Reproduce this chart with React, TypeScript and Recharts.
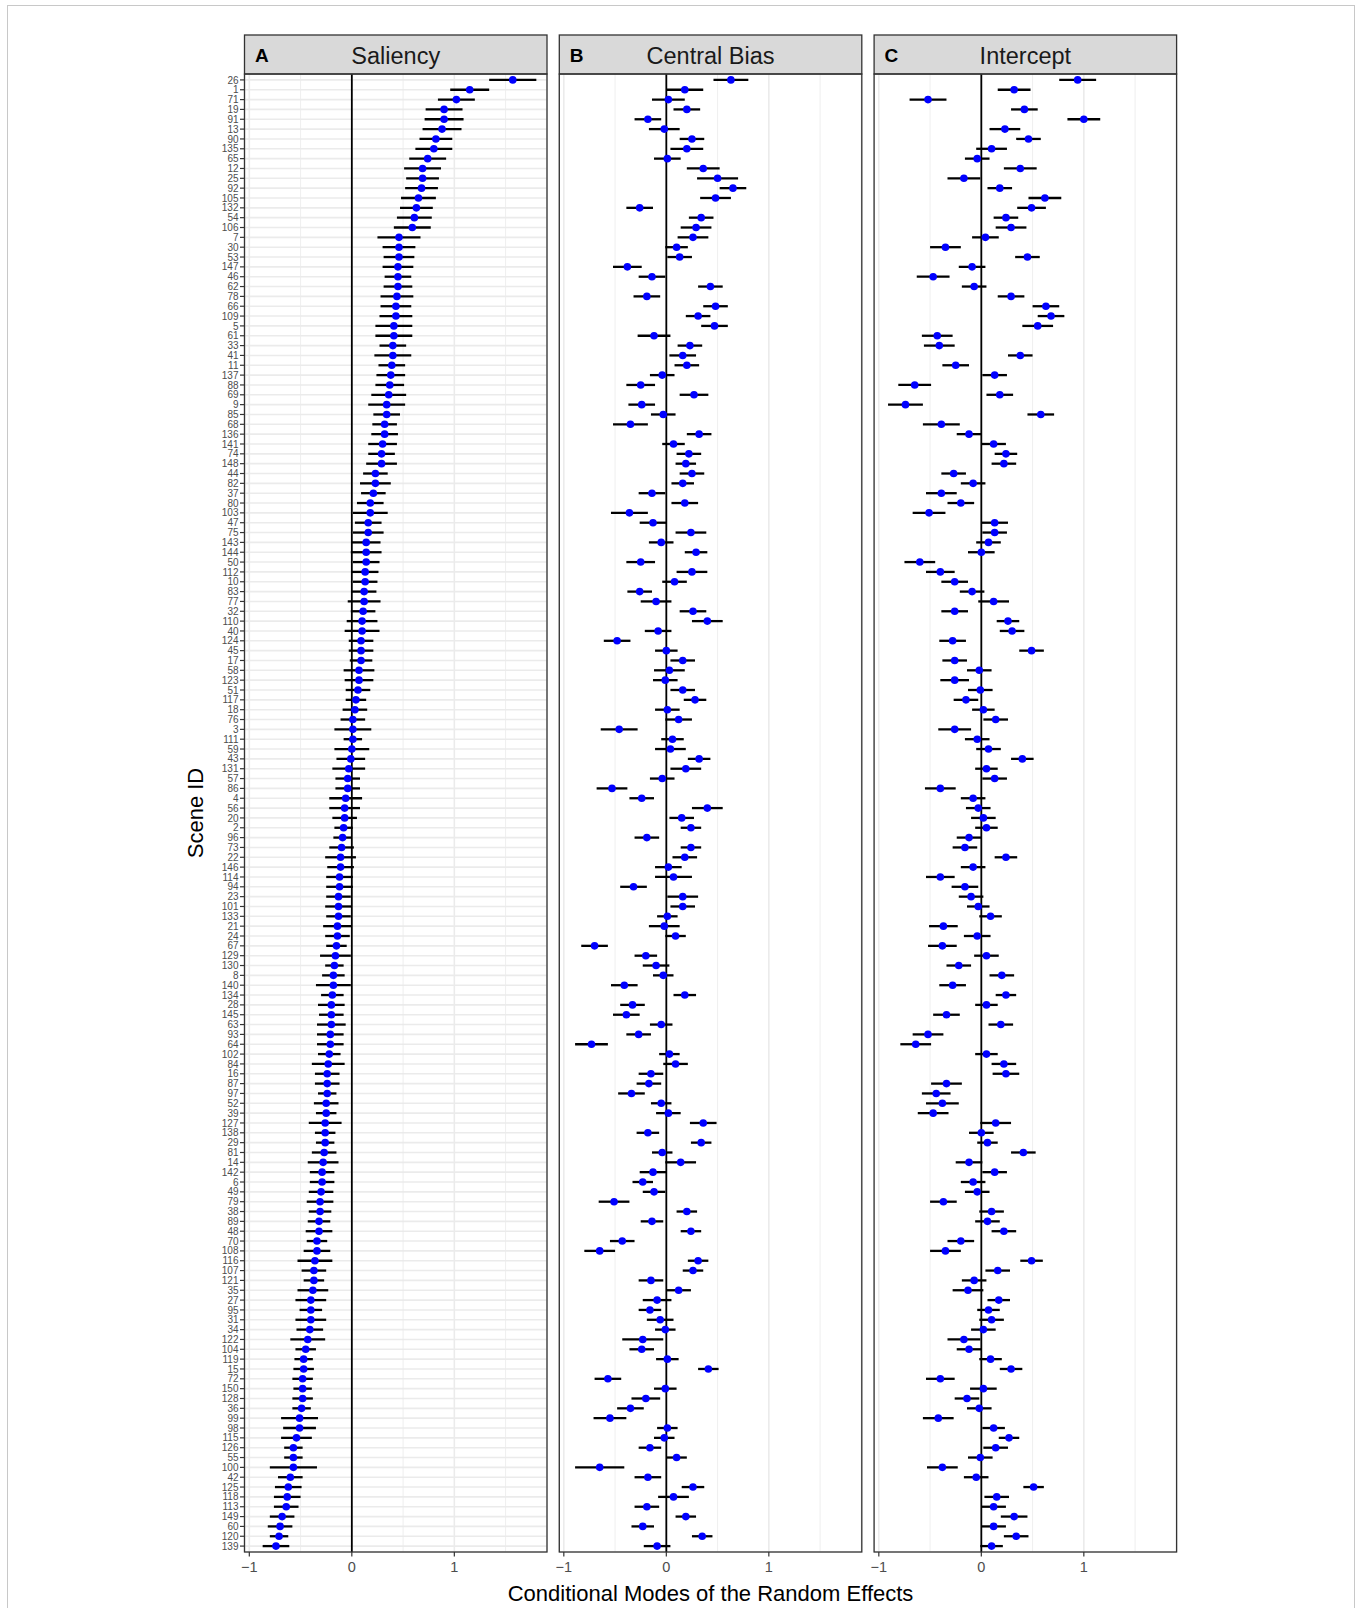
import React from 'react';
import { ScatterChart, Scatter, XAxis, YAxis, CartesianGrid, ErrorBar, ReferenceLine } from 'recharts';

const sceneIds = ["26","1","71","19","91","13","90","135","65","12",
"25","92","105","132","54","106","7","30","53","147",
"46","62","78","66","109","5","61","33","41","11",
"137","88","69","9","85","68","136","141","74","148",
"44","82","37","80","103","47","75","143","144","50",
"112","10","83","77","32","110","40","124","45","17",
"58","123","51","117","18","76","3","111","59","43",
"131","57","86","4","56","20","2","96","73","22",
"146","114","94","23","101","133","21","24","67","129",
"130","8","140","134","28","145","63","93","64","102",
"84","16","87","97","52","39","127","138","29","81",
"14","142","6","49","79","38","89","48","70","108",
"116","107","121","35","27","95","31","34","122","104",
"119","15","72","150","128","36","99","98","115","126",
"55","100","42","125","118","113","149","60","120","139"];

const saliencyEst = [1.57,1.15,1.02,0.90,0.90,0.88,0.82,0.80,0.74,0.69,
0.69,0.68,0.65,0.63,0.61,0.59,0.46,0.46,0.46,0.45,
0.45,0.45,0.44,0.43,0.43,0.41,0.41,0.40,0.40,0.39,
0.38,0.37,0.36,0.34,0.34,0.32,0.32,0.30,0.29,0.29,
0.23,0.23,0.21,0.18,0.18,0.16,0.16,0.14,0.14,0.14,
0.13,0.13,0.12,0.12,0.11,0.10,0.10,0.09,0.09,0.09,
0.07,0.07,0.06,0.04,0.03,0.01,0.01,0.01,0.00,-0.01,
-0.03,-0.04,-0.04,-0.06,-0.07,-0.07,-0.08,-0.09,-0.10,-0.11,
-0.11,-0.12,-0.12,-0.13,-0.13,-0.13,-0.14,-0.14,-0.15,-0.16,
-0.17,-0.18,-0.18,-0.19,-0.20,-0.20,-0.20,-0.21,-0.21,-0.22,
-0.23,-0.24,-0.24,-0.24,-0.25,-0.25,-0.26,-0.26,-0.26,-0.27,
-0.28,-0.29,-0.29,-0.30,-0.31,-0.31,-0.32,-0.32,-0.34,-0.34,
-0.36,-0.37,-0.37,-0.38,-0.40,-0.40,-0.40,-0.41,-0.43,-0.45,
-0.47,-0.47,-0.48,-0.48,-0.48,-0.49,-0.51,-0.51,-0.54,-0.57,
-0.57,-0.57,-0.60,-0.62,-0.63,-0.64,-0.68,-0.70,-0.71,-0.74];

const saliencyErr = [0.23,0.19,0.18,0.18,0.19,0.19,0.16,0.18,0.18,0.18,
0.16,0.16,0.17,0.16,0.17,0.18,0.21,0.16,0.15,0.15,
0.13,0.14,0.16,0.15,0.16,0.18,0.18,0.13,0.18,0.13,
0.14,0.14,0.17,0.18,0.13,0.12,0.13,0.14,0.13,0.15,
0.12,0.15,0.12,0.13,0.17,0.13,0.15,0.14,0.15,0.13,
0.13,0.12,0.12,0.16,0.12,0.15,0.17,0.12,0.12,0.11,
0.15,0.14,0.12,0.10,0.12,0.12,0.18,0.09,0.17,0.14,
0.16,0.12,0.12,0.16,0.15,0.12,0.09,0.09,0.12,0.15,
0.13,0.13,0.13,0.12,0.13,0.12,0.14,0.12,0.10,0.15,
0.09,0.11,0.17,0.11,0.13,0.12,0.14,0.13,0.13,0.11,
0.16,0.12,0.12,0.09,0.12,0.10,0.16,0.10,0.09,0.12,
0.15,0.12,0.12,0.12,0.13,0.11,0.11,0.13,0.10,0.13,
0.17,0.12,0.10,0.15,0.15,0.11,0.15,0.13,0.17,0.10,
0.09,0.10,0.10,0.09,0.10,0.09,0.18,0.16,0.15,0.09,
0.09,0.23,0.12,0.13,0.13,0.12,0.12,0.12,0.09,0.13];

const centralEst = [0.63,0.18,0.02,0.20,-0.18,-0.02,0.25,0.20,0.01,0.36,
0.50,0.65,0.48,-0.26,0.34,0.29,0.26,0.10,0.13,-0.38,
-0.14,0.43,-0.19,0.48,0.31,0.47,-0.12,0.23,0.16,0.20,
-0.04,-0.25,0.27,-0.24,-0.03,-0.35,0.32,0.07,0.22,0.19,
0.25,0.16,-0.14,0.18,-0.36,-0.13,0.24,-0.05,0.29,-0.25,
0.25,0.08,-0.26,-0.10,0.26,0.40,-0.08,-0.48,0.00,0.16,
0.03,-0.01,0.16,0.28,0.01,0.12,-0.46,0.06,0.04,0.32,
0.19,-0.04,-0.53,-0.24,0.40,0.15,0.24,-0.19,0.24,0.18,
0.02,0.07,-0.32,0.16,0.16,0.01,-0.02,0.09,-0.70,-0.20,
-0.10,-0.03,-0.41,0.18,-0.33,-0.39,-0.05,-0.27,-0.73,0.03,
0.09,-0.15,-0.17,-0.34,-0.05,0.02,0.36,-0.18,0.34,-0.04,
0.14,-0.13,-0.23,-0.12,-0.51,0.20,-0.14,0.24,-0.43,-0.65,
0.31,0.26,-0.15,0.12,-0.09,-0.16,-0.06,-0.01,-0.23,-0.24,
0.01,0.41,-0.57,-0.01,-0.20,-0.35,-0.55,0.01,-0.02,-0.16,
0.10,-0.65,-0.18,0.26,0.07,-0.19,0.19,-0.23,0.35,-0.09];

const centralErr = [0.17,0.18,0.16,0.13,0.13,0.15,0.12,0.16,0.13,0.16,
0.20,0.13,0.15,0.13,0.12,0.15,0.15,0.11,0.12,0.14,
0.13,0.12,0.13,0.12,0.12,0.13,0.16,0.12,0.13,0.12,
0.12,0.14,0.14,0.13,0.12,0.17,0.12,0.11,0.12,0.10,
0.12,0.11,0.13,0.13,0.18,0.13,0.15,0.12,0.11,0.14,
0.15,0.12,0.12,0.15,0.13,0.15,0.13,0.13,0.11,0.12,
0.15,0.12,0.12,0.11,0.12,0.13,0.18,0.11,0.15,0.11,
0.15,0.12,0.15,0.12,0.15,0.12,0.10,0.12,0.10,0.12,
0.13,0.18,0.13,0.15,0.12,0.10,0.15,0.10,0.13,0.11,
0.13,0.10,0.13,0.11,0.12,0.13,0.11,0.12,0.16,0.10,
0.12,0.12,0.12,0.13,0.10,0.12,0.13,0.11,0.10,0.10,
0.15,0.13,0.10,0.11,0.15,0.10,0.11,0.10,0.12,0.15,
0.10,0.10,0.12,0.12,0.14,0.11,0.13,0.10,0.20,0.12,
0.11,0.10,0.13,0.11,0.14,0.13,0.16,0.10,0.10,0.11,
0.10,0.24,0.13,0.11,0.15,0.12,0.10,0.11,0.10,0.13];

const interceptEst = [0.94,0.32,-0.52,0.42,1.00,0.23,0.46,0.10,-0.04,0.38,
-0.17,0.18,0.62,0.49,0.24,0.29,0.04,-0.35,0.45,-0.09,
-0.47,-0.07,0.29,0.63,0.68,0.55,-0.43,-0.41,0.38,-0.25,
0.13,-0.65,0.18,-0.74,0.58,-0.39,-0.12,0.12,0.24,0.22,
-0.27,-0.08,-0.39,-0.20,-0.51,0.13,0.13,0.07,0.00,-0.60,
-0.40,-0.26,-0.09,0.12,-0.26,0.26,0.30,-0.28,0.49,-0.26,
-0.02,-0.26,-0.01,-0.15,0.02,0.14,-0.26,-0.04,0.07,0.40,
0.05,0.13,-0.40,-0.08,-0.03,0.02,0.05,-0.12,-0.16,0.24,
-0.08,-0.40,-0.16,-0.10,-0.03,0.09,-0.37,-0.04,-0.38,0.05,
-0.22,0.20,-0.28,0.24,0.05,-0.34,0.19,-0.52,-0.64,0.05,
0.22,0.24,-0.34,-0.44,-0.38,-0.47,0.14,0.00,0.06,0.41,
-0.12,0.13,-0.08,-0.04,-0.37,0.10,0.06,0.22,-0.20,-0.35,
0.49,0.16,-0.07,-0.13,0.17,0.07,0.10,0.02,-0.17,-0.12,
0.09,0.29,-0.40,0.02,-0.14,-0.02,-0.42,0.12,0.27,0.14,
-0.01,-0.38,-0.05,0.51,0.15,0.12,0.32,0.12,0.34,0.10];

const interceptErr = [0.18,0.16,0.18,0.13,0.16,0.15,0.12,0.15,0.12,0.16,
0.16,0.12,0.16,0.14,0.12,0.15,0.13,0.15,0.12,0.13,
0.16,0.12,0.13,0.13,0.13,0.15,0.15,0.15,0.12,0.13,
0.12,0.16,0.13,0.17,0.13,0.18,0.12,0.12,0.11,0.12,
0.12,0.12,0.15,0.13,0.16,0.13,0.12,0.12,0.13,0.15,
0.14,0.13,0.12,0.15,0.13,0.11,0.12,0.13,0.12,0.12,
0.12,0.14,0.12,0.12,0.11,0.12,0.16,0.12,0.12,0.11,
0.11,0.12,0.15,0.12,0.12,0.12,0.11,0.12,0.12,0.11,
0.12,0.14,0.13,0.12,0.11,0.11,0.14,0.13,0.14,0.12,
0.12,0.12,0.13,0.10,0.11,0.13,0.12,0.15,0.15,0.11,
0.12,0.13,0.15,0.14,0.16,0.15,0.15,0.12,0.10,0.12,
0.13,0.12,0.12,0.12,0.13,0.12,0.12,0.12,0.13,0.15,
0.11,0.12,0.12,0.15,0.11,0.11,0.12,0.12,0.16,0.12,
0.11,0.11,0.14,0.13,0.12,0.12,0.15,0.11,0.10,0.12,
0.12,0.15,0.12,0.10,0.12,0.12,0.13,0.12,0.12,0.11];

const panelTags = ["A", "B", "C"];
const panelTitles = ["Saliency", "Central Bias", "Intercept"];
const xTicks = [-1, 0, 1];
const xMinorTicks = [-0.5, 0.5, 1.5];
const xDomain: [number, number] = [-1.047, 1.904];
const xTitle = "Conditional Modes of the Random Effects";
const yTitle = "Scene ID";

const FONT = '"Liberation Sans", Arial, Helvetica, sans-serif';
const PANEL_TOP = 74;
const PANEL_H = 1478;
const PANEL_W = 302.5;
const AXIS_H = 40;
const STRIP_TOP = 35;
const STRIP_H = 39;
const SIDE_PAD = 20;
const panelLefts = [244.5, 559.3, 874.1];

const rowTicks = sceneIds.map((_, i) => i);

function buildData(est: number[], err: number[]) {
  return sceneIds.map((id, i) => ({ row: i, id, x: est[i], err: err[i] }));
}

const series = [
  buildData(saliencyEst, saliencyErr),
  buildData(centralEst, centralErr),
  buildData(interceptEst, interceptErr),
];

const fmtX = (v: number) => (v < 0 ? `\u2212${Math.abs(v)}` : `${v}`);

const Dot = (p: any) => <circle cx={p.cx} cy={p.cy} r={3.8} fill="#0000ff" />;

const XTick = (p: any) => (
  <text x={p.x} y={p.y} dy={11} textAnchor="middle" fontFamily={FONT} fontSize={14.5} fill="#4d4d4d">
    {fmtX(p.payload.value)}
  </text>
);

const YTick = (p: any) => (
  <text x={p.x} y={p.y} dy={3.6} textAnchor="end" fontFamily={FONT} fontSize={10} fill="#4d4d4d">
    {sceneIds[p.payload.value]}
  </text>
);

function Panel({ idx }: { idx: number }) {
  const first = idx === 0;
  const yW = first ? panelLefts[0] : 0;
  const left = first ? 0 : panelLefts[idx] - SIDE_PAD;
  const mLeft = first ? 0 : SIDE_PAD;
  return (
    <div style={{ position: 'absolute', left, top: PANEL_TOP }}>
      <ScatterChart
        width={yW + mLeft + PANEL_W + SIDE_PAD}
        height={PANEL_H + AXIS_H}
        margin={{ top: 0, right: SIDE_PAD, bottom: 0, left: mLeft }}
      >
        <CartesianGrid stroke="#ebebeb" strokeWidth={1.6} horizontal vertical />
        {xMinorTicks.map((m) => (
          <ReferenceLine key={m} x={m} stroke="#ebebeb" strokeWidth={0.8} ifOverflow="hidden" />
        ))}
        <ReferenceLine x={0} stroke="#000" strokeWidth={1.8} />
        <XAxis
          type="number"
          dataKey="x"
          domain={xDomain}
          allowDataOverflow
          ticks={xTicks}
          interval={0}
          height={AXIS_H}
          axisLine={false}
          tickLine={{ stroke: '#333', strokeWidth: 1.2 }}
          tickSize={4.5}
          tickMargin={4}
          tick={XTick}
        />
        <YAxis
          type="number"
          dataKey="row"
          domain={[-0.6, sceneIds.length - 0.4]}
          reversed
          allowDataOverflow
          ticks={rowTicks}
          interval={0}
          width={yW}
          axisLine={false}
          tickLine={first ? { stroke: '#333', strokeWidth: 1.2 } : false}
          tickSize={4.5}
          tickMargin={1.5}
          tick={first ? YTick : false}
        />
        <Scatter data={series[idx]} shape={Dot} isAnimationActive={false}>
          <ErrorBar dataKey="err" direction="x" width={0} stroke="#000" strokeWidth={2.3} />
        </Scatter>
      </ScatterChart>
    </div>
  );
}

export default function App() {
  const midX = (panelLefts[0] + panelLefts[2] + PANEL_W) / 2;
  return (
    <div style={{ position: 'absolute', left: 0, top: 0, width: 1362, height: 1608, background: '#fff', fontFamily: FONT, overflow: 'hidden' }}>
      {panelTitles.map((_, i) => (
        <Panel key={i} idx={i} />
      ))}
      <svg width={1362} height={1608} style={{ position: 'absolute', left: 0, top: 0, pointerEvents: 'none' }}>
        <rect x={7.5} y={5.5} width={1347} height={1640} fill="none" stroke="#c8c8c8" strokeWidth={1} />
        {panelTitles.map((t, i) => (
          <g key={t}>
            <rect x={panelLefts[i]} y={STRIP_TOP} width={PANEL_W} height={STRIP_H} fill="#d9d9d9" stroke="#333" strokeWidth={1.3} />
            <text x={panelLefts[i] + 10.5} y={STRIP_TOP + STRIP_H / 2 + 1} dominantBaseline="central" fontFamily={FONT} fontWeight="bold" fontSize={19} fill="#000">
              {panelTags[i]}
            </text>
            <text x={panelLefts[i] + PANEL_W / 2} y={STRIP_TOP + STRIP_H / 2 + 1} dominantBaseline="central" textAnchor="middle" fontFamily={FONT} fontSize={23.5} fill="#1a1a1a">
              {t}
            </text>
            <rect x={panelLefts[i]} y={PANEL_TOP} width={PANEL_W} height={PANEL_H} fill="none" stroke="#333" strokeWidth={1.3} />
          </g>
        ))}
        <text x={midX} y={1593} textAnchor="middle" dominantBaseline="central" fontFamily={FONT} fontSize={22} fill="#000">
          {xTitle}
        </text>
        <text x={195} y={813} transform="rotate(-90 195 813)" textAnchor="middle" dominantBaseline="central" fontFamily={FONT} fontSize={22} fill="#000">
          {yTitle}
        </text>
      </svg>
    </div>
  );
}
